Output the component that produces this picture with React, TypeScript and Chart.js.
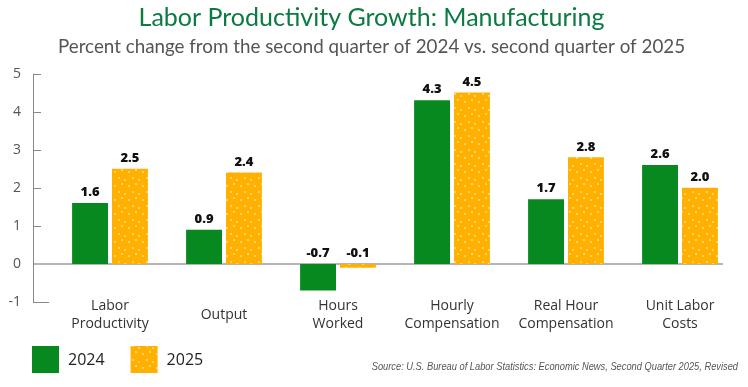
import { useEffect, useRef } from "react";
import { Chart, registerables } from "chart.js";
Chart.register(...registerables);

const categories: (string | string[])[] = [
  ["Labor", "Productivity"],
  "Output",
  ["Hours", "Worked"],
  ["Hourly", "Compensation"],
  ["Real Hour", "Compensation"],
  ["Unit Labor", "Costs"],
];
const values2024 = [1.6, 0.9, -0.7, 4.3, 1.7, 2.6];
const values2025 = [2.5, 2.4, -0.1, 4.5, 2.8, 2.0];
const seriesLabels = ["2024", "2025"];
const yMin = -1;
const yMax = 5;
const titleText = "Labor Productivity Growth: Manufacturing";
const subtitleText = "Percent change from the second quarter of 2024 vs. second quarter of 2025";
const sourceText = "Source: U.S. Bureau of Labor Statistics: Economic News, Second Quarter 2025, Revised";

const GREEN = "#08891f";
const ORANGE = "#ffb000";

function makePattern(): CanvasPattern | string {
  const c = document.createElement("canvas");
  c.width = 14;
  c.height = 14;
  const ctx = c.getContext("2d");
  if (!ctx) return ORANGE;
  ctx.fillStyle = ORANGE;
  ctx.fillRect(0, 0, 14, 14);
  ctx.fillStyle = "#ffd36a";
  ctx.fillRect(2, 3, 2, 2);
  ctx.fillRect(9, 1, 2, 2);
  ctx.fillRect(6, 9, 2, 2);
  ctx.fillRect(12, 11, 2, 2);
  const p = ctx.createPattern(c, "repeat");
  return p || ORANGE;
}

const axisPlugin = {
  id: "customAxis",
  beforeDatasetsDraw(chart: any) {
    const { ctx, chartArea, scales } = chart;
    const y = scales.y;
    const ax = chartArea.left - 20;
    ctx.save();
    ctx.strokeStyle = "#b5b5b5";
    ctx.lineWidth = 2;
    const y0 = y.getPixelForValue(0);
    ctx.beginPath();
    ctx.moveTo(ax, y0);
    ctx.lineTo(chartArea.right - 14, y0);
    ctx.stroke();
    ctx.strokeStyle = "#8a8a8a";
    ctx.lineWidth = 1;
    ctx.beginPath();
    ctx.moveTo(ax + 0.5, y.getPixelForValue(yMax));
    ctx.lineTo(ax + 0.5, y.getPixelForValue(yMin));
    ctx.stroke();
    for (let v = yMin; v <= yMax; v++) {
      if (v === 0) continue;
      const py = Math.round(y.getPixelForValue(v)) + 0.5;
      const len = v === yMin ? 16 : 8;
      ctx.beginPath();
      ctx.moveTo(ax, py);
      ctx.lineTo(ax + len, py);
      ctx.stroke();
    }
    ctx.restore();
  },
  afterDatasetsDraw(chart: any) {
    const { ctx } = chart;
    ctx.save();
    ctx.font = "800 13px 'Open Sans'";
    ctx.fillStyle = "#111";
    ctx.textAlign = "center";
    ctx.textBaseline = "bottom";
    chart.data.datasets.forEach((ds: any, di: number) => {
      const meta = chart.getDatasetMeta(di);
      meta.data.forEach((el: any, i: number) => {
        const top = Math.min(el.y, el.base);
        const v = ds.data[i] as number;
        ctx.fillText(v.toFixed(1), el.x, top - 4);
      });
    });
    ctx.restore();
  },
  afterDraw(chart: any) {
    const { ctx, width, height, chartArea, scales } = chart;
    ctx.save();
    // category labels
    ctx.font = "14px 'Open Sans'";
    ctx.fillStyle = "#333";
    ctx.textAlign = "center";
    ctx.textBaseline = "middle";
    (chart.data.labels as any[]).forEach((lab: any, i: number) => {
      const lines = Array.isArray(lab) ? lab : [lab];
      const cx = scales.x.getPixelForValue(i);
      const shift = (2 - lines.length) * 9;
      lines.forEach((ln: string, j: number) => {
        ctx.fillText(ln, cx, chartArea.bottom + 4 + shift + j * 18);
      });
    });
    // legend
    ctx.font = "16px 'Open Sans'";
    ctx.textAlign = "left";
    ctx.textBaseline = "middle";
    let x = 32;
    const boxTop = 346;
    const boxSize = 27;
    chart.data.datasets.forEach((ds: any) => {
      ctx.fillStyle = ds.backgroundColor;
      ctx.fillRect(x, boxTop, boxSize, boxSize);
      ctx.fillStyle = "#222";
      const tx = x + boxSize + 9;
      ctx.fillText(ds.label, tx, boxTop + boxSize / 2 + 1);
      x = tx + ctx.measureText(ds.label).width + 26;
    });
    // source
    ctx.font = "italic 11px 'Liberation Sans Narrow', 'Liberation Sans', sans-serif";
    ctx.fillStyle = "#555";
    ctx.textAlign = "right";
    ctx.textBaseline = "middle";
    ctx.translate(width - 10, height - 20);
    ctx.scale(0.845, 1);
    ctx.fillText(sourceText, 0, 0);
    ctx.restore();
  },
};

export default function App() {
  const ref = useRef<HTMLCanvasElement | null>(null);
  useEffect(() => {
    document.body.style.margin = "0";
    if (!ref.current) return;
    const pattern = makePattern();
    const chart = new Chart(ref.current, {
      type: "bar",
      data: {
        labels: categories,
        datasets: [
          {
            label: seriesLabels[0],
            data: values2024,
            backgroundColor: GREEN,
            borderWidth: 0,
            categoryPercentage: 0.7,
            barPercentage: 0.9,
          },
          {
            label: seriesLabels[1],
            data: values2025,
            backgroundColor: pattern as any,
            borderWidth: 0,
            categoryPercentage: 0.7,
            barPercentage: 0.9,
          },
        ],
      },
      options: {
        animation: false,
        responsive: false,
        maintainAspectRatio: false,
        layout: { padding: { left: 6, right: 11, top: 0, bottom: 85 } },
        plugins: {
          title: {
            display: true,
            text: titleText,
            color: "#0b7a43",
            font: { family: "Lato", size: 25, weight: "normal", lineHeight: 1.2 },
            padding: { top: 3, bottom: 0 },
          },
          subtitle: {
            display: true,
            text: subtitleText,
            color: "#555",
            font: { family: "Lato", size: 18.8, weight: "normal", lineHeight: 1.2 },
            padding: { top: 3, bottom: 15 },
          },
          legend: { display: false },
          tooltip: { enabled: false },
        },
        scales: {
          x: {
            grid: { display: false, drawTicks: false },
            border: { display: false },
            ticks: { display: false },
            afterFit: (s: any) => {
              s.paddingLeft = 0;
              s.paddingRight = 0;
              s.height = 0;
            },
          },
          y: {
            min: yMin,
            max: yMax,
            grid: { display: false, drawTicks: false },
            border: { display: false },
            ticks: {
              stepSize: 1,
              color: "#555",
              font: { family: "Open Sans", size: 14 },
              padding: 32,
            },
            afterFit: (s: any) => {
              s.width = 47;
            },
          },
        },
      },
      plugins: [axisPlugin],
    });
    return () => chart.destroy();
  }, []);
  return (
    <div style={{ width: 748, height: 387 }}>
      <canvas ref={ref} width={748} height={387} style={{ width: 748, height: 387, display: "block" }} />
    </div>
  );
}
